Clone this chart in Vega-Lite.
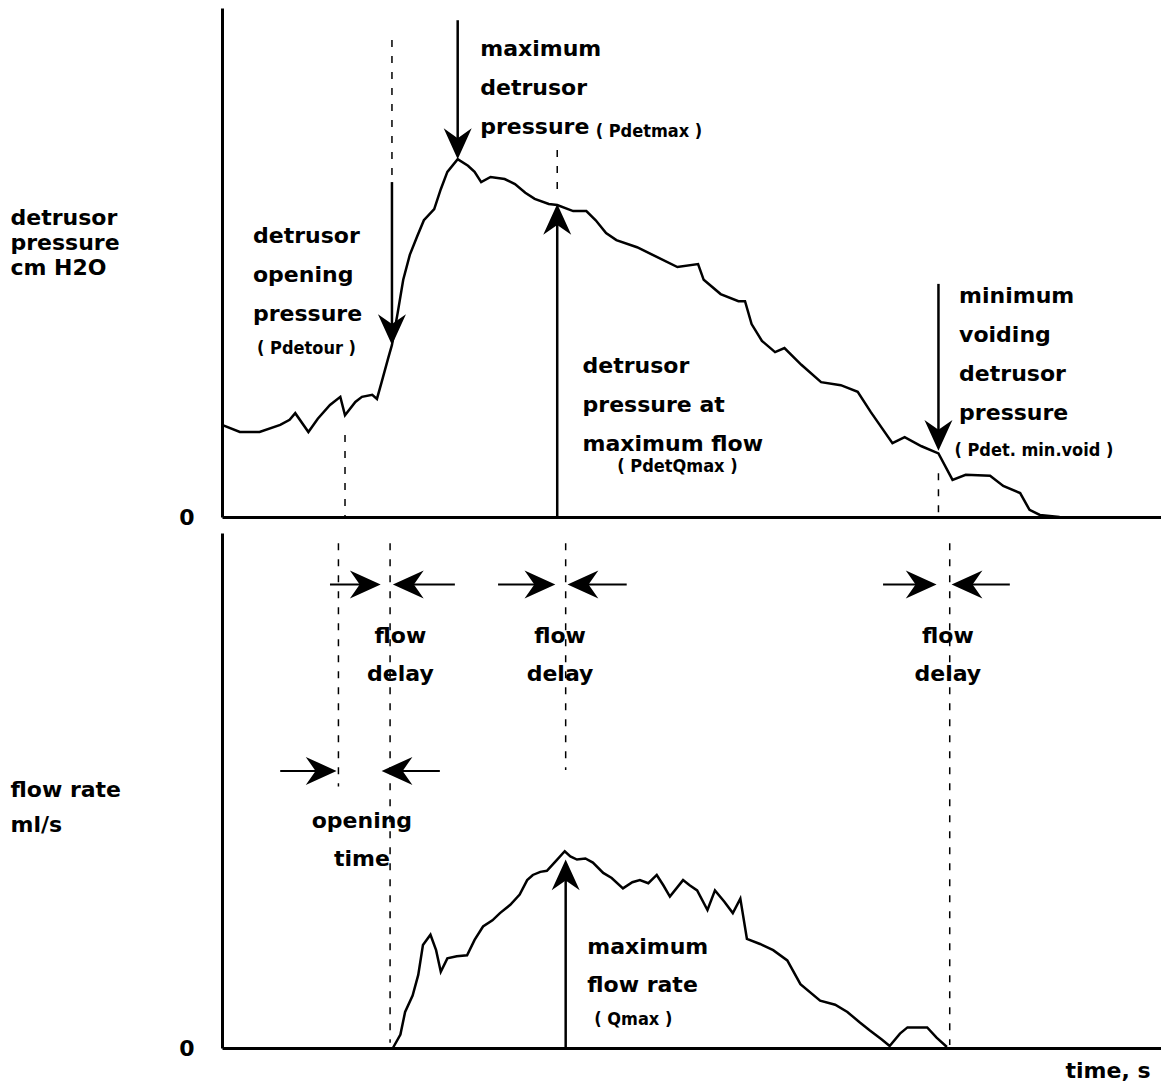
{
  "$schema": "https://vega.github.io/schema/vega-lite/v6.json",
  "padding": {"left": 10, "top": 8, "right": 0, "bottom": 0},
  "background": "white",
  "spacing": 5,
  "config": {
    "view": {"stroke": null},
    "axis": {"grid": false, "ticks": false, "domainColor": "black", "domainWidth": 3, "labelColor": "black", "titleColor": "black", "labelFont": "DejaVu Sans", "titleFont": "DejaVu Sans", "labelFontSize": 22, "labelFontWeight": "bold", "titleFontSize": 22, "titleFontWeight": "bold", "labelFlush": false}
  },
  "datasets": {
    "pressure": [
      {"t": 0, "v": 18.1}, {"t": 1.9, "v": 16.7}, {"t": 4.0, "v": 16.7}, {"t": 6.2, "v": 18.1}, {"t": 7.2, "v": 19.1}, {"t": 7.8, "v": 20.4}, {"t": 9.2, "v": 16.7}, {"t": 10.2, "v": 19.3}, {"t": 11.5, "v": 22.0}, {"t": 12.6, "v": 23.6}, {"t": 13.1, "v": 20.0}, {"t": 14.2, "v": 22.6}, {"t": 14.9, "v": 23.6}, {"t": 16.0, "v": 24.0}, {"t": 16.5, "v": 23.2}, {"t": 17.0, "v": 26.5}, {"t": 17.7, "v": 31.2}, {"t": 18.1, "v": 33.8}, {"t": 18.7, "v": 40.0}, {"t": 19.3, "v": 46.6}, {"t": 20.0, "v": 51.5}, {"t": 20.8, "v": 55.2}, {"t": 21.5, "v": 58.3}, {"t": 22.6, "v": 60.5}, {"t": 23.3, "v": 64.4}, {"t": 24.0, "v": 67.8}, {"t": 25.1, "v": 70.3}, {"t": 26.2, "v": 69.0}, {"t": 26.9, "v": 67.8}, {"t": 27.6, "v": 65.8}, {"t": 28.6, "v": 66.8}, {"t": 30.1, "v": 66.4}, {"t": 31.2, "v": 65.4}, {"t": 32.3, "v": 63.7}, {"t": 33.3, "v": 62.5}, {"t": 34.8, "v": 61.5}, {"t": 35.7, "v": 61.3}, {"t": 37.4, "v": 60.1}, {"t": 38.8, "v": 60.1}, {"t": 39.8, "v": 58.3}, {"t": 40.9, "v": 55.8}, {"t": 42.0, "v": 54.4}, {"t": 44.2, "v": 53.0}, {"t": 46.3, "v": 51.1}, {"t": 48.5, "v": 49.1}, {"t": 50.7, "v": 49.7}, {"t": 51.3, "v": 46.6}, {"t": 53.1, "v": 43.8}, {"t": 55.0, "v": 42.4}, {"t": 55.7, "v": 42.4}, {"t": 56.4, "v": 37.9}, {"t": 57.5, "v": 34.6}, {"t": 58.9, "v": 32.4}, {"t": 59.9, "v": 33.2}, {"t": 61.7, "v": 29.9}, {"t": 63.8, "v": 26.5}, {"t": 65.9, "v": 25.9}, {"t": 67.7, "v": 24.6}, {"t": 69.1, "v": 20.6}, {"t": 71.4, "v": 14.5}, {"t": 72.7, "v": 15.7}, {"t": 74.5, "v": 13.9}, {"t": 76.3, "v": 12.5}, {"t": 77.8, "v": 7.3}, {"t": 79.2, "v": 8.3}, {"t": 81.8, "v": 8.1}, {"t": 83.2, "v": 6.1}, {"t": 85.0, "v": 4.7}, {"t": 86.0, "v": 1.4}, {"t": 87.1, "v": 0.4}, {"t": 89.2, "v": 0}
    ],
    "flow": [
      {"t": 18.2, "v": 0}, {"t": 19.0, "v": 1.3}, {"t": 19.5, "v": 3.5}, {"t": 20.3, "v": 5.1}, {"t": 20.9, "v": 7.1}, {"t": 21.4, "v": 10.0}, {"t": 22.2, "v": 11.0}, {"t": 22.8, "v": 9.5}, {"t": 23.3, "v": 7.4}, {"t": 24.0, "v": 8.7}, {"t": 25.0, "v": 8.9}, {"t": 26.1, "v": 9.0}, {"t": 26.9, "v": 10.5}, {"t": 27.8, "v": 11.8}, {"t": 28.8, "v": 12.4}, {"t": 29.6, "v": 13.1}, {"t": 30.7, "v": 13.9}, {"t": 31.7, "v": 14.9}, {"t": 32.5, "v": 16.3}, {"t": 33.1, "v": 16.8}, {"t": 33.9, "v": 17.1}, {"t": 34.6, "v": 17.2}, {"t": 35.5, "v": 18.1}, {"t": 36.5, "v": 19.1}, {"t": 37.1, "v": 18.6}, {"t": 37.8, "v": 18.3}, {"t": 38.7, "v": 18.4}, {"t": 39.5, "v": 18.0}, {"t": 40.6, "v": 17.0}, {"t": 41.5, "v": 16.5}, {"t": 42.7, "v": 15.5}, {"t": 43.7, "v": 16.1}, {"t": 44.5, "v": 16.3}, {"t": 45.4, "v": 16.0}, {"t": 46.3, "v": 16.8}, {"t": 47.0, "v": 15.8}, {"t": 47.7, "v": 14.7}, {"t": 49.1, "v": 16.3}, {"t": 49.8, "v": 15.8}, {"t": 50.6, "v": 15.3}, {"t": 51.7, "v": 13.4}, {"t": 52.5, "v": 15.3}, {"t": 53.5, "v": 14.2}, {"t": 54.4, "v": 13.1}, {"t": 55.2, "v": 14.5}, {"t": 55.9, "v": 10.6}, {"t": 57.3, "v": 10.1}, {"t": 58.7, "v": 9.5}, {"t": 60.2, "v": 8.5}, {"t": 61.6, "v": 6.2}, {"t": 63.7, "v": 4.6}, {"t": 65.3, "v": 4.2}, {"t": 66.6, "v": 3.5}, {"t": 67.9, "v": 2.5}, {"t": 69.0, "v": 1.7}, {"t": 70.3, "v": 0.8}, {"t": 71.1, "v": 0.2}, {"t": 72.2, "v": 1.4}, {"t": 73.0, "v": 2.0}, {"t": 74.1, "v": 2.0}, {"t": 75.1, "v": 2.0}, {"t": 76.1, "v": 1.0}, {"t": 77.2, "v": 0.1}
    ],
    "topRules": [
      {"kind": "solid", "t": 25.1, "v": 97.6, "v2": 72.5},
      {"kind": "solid", "t": 18.1, "v": 65.8, "v2": 36.0},
      {"kind": "solid", "t": 35.7, "v": 0, "v2": 59.0},
      {"kind": "solid", "t": 76.3, "v": 45.8, "v2": 15.0},
      {"kind": "dashed", "t": 18.1, "v": 93.7, "v2": 65.8},
      {"kind": "dashed", "t": 35.7, "v": 72.1, "v2": 64.2},
      {"kind": "dashed", "t": 76.3, "v": 8.6, "v2": 0},
      {"kind": "dashed", "t": 13.1, "v": 16.1, "v2": 0}
    ],
    "topHeads": [
      {"dir": "down", "t": 25.1, "v": 70.3},
      {"dir": "down", "t": 18.1, "v": 33.8},
      {"dir": "down", "t": 76.3, "v": 13.0},
      {"dir": "up", "t": 35.7, "v": 61.5}
    ],
    "topNotes": [
      {"role": "main", "t": 27.5, "v": 93.9, "label": "maximum\ndetrusor\npressure"},
      {"role": "main", "t": 3.3, "v": 57.2, "label": "detrusor\nopening\npressure"},
      {"role": "main", "t": 38.4, "v": 31.6, "label": "detrusor\npressure at\nmaximum flow"},
      {"role": "main", "t": 78.5, "v": 45.4, "label": "minimum\nvoiding\ndetrusor\npressure"},
      {"role": "smallLeft", "t": 39.8, "v": 75.6, "label": "( Pdetmax )"},
      {"role": "smallLeft", "t": 78.0, "v": 13.0, "label": "( Pdet. min.void )"},
      {"role": "smallCenter", "t": 9.0, "v": 33.0, "label": "( Pdetour )"},
      {"role": "smallCenter", "t": 48.5, "v": 9.8, "label": "( PdetQmax )"}
    ],
    "botHRules": [
      {"t": 11.5, "t2": 16.0, "v": 45}, {"t": 24.8, "t2": 19.1, "v": 45},
      {"t": 29.4, "t2": 34.6, "v": 45}, {"t": 43.1, "t2": 37.7, "v": 45},
      {"t": 70.4, "t2": 75.2, "v": 45}, {"t": 83.9, "t2": 78.6, "v": 45},
      {"t": 6.2, "t2": 11.3, "v": 26.9}, {"t": 23.2, "t2": 17.9, "v": 26.9}
    ],
    "botVRules": [
      {"kind": "solid", "t": 36.6, "v": 0, "v2": 16.5},
      {"kind": "dashed", "t": 12.4, "v": 49, "v2": 25.4},
      {"kind": "dashed", "t": 17.9, "v": 49, "v2": 0.5},
      {"kind": "dashed", "t": 36.6, "v": 49, "v2": 27},
      {"kind": "dashed", "t": 77.5, "v": 49, "v2": 0.3}
    ],
    "botHeads": [
      {"dir": "right", "t": 16.9, "v": 45}, {"dir": "right", "t": 35.5, "v": 45}, {"dir": "right", "t": 76.1, "v": 45}, {"dir": "right", "t": 12.2, "v": 26.9},
      {"dir": "left", "t": 18.2, "v": 45}, {"dir": "left", "t": 36.8, "v": 45}, {"dir": "left", "t": 77.7, "v": 45}, {"dir": "left", "t": 17.0, "v": 26.9},
      {"dir": "up", "t": 36.6, "v": 18.3}
    ],
    "botNotes": [
      {"role": "mainCenter", "t": 19.0, "v": 41.0, "label": "flow\ndelay"},
      {"role": "mainCenter", "t": 36.0, "v": 41.0, "label": "flow\ndelay"},
      {"role": "mainCenter", "t": 77.3, "v": 41.0, "label": "flow\ndelay"},
      {"role": "mainCenter", "t": 14.9, "v": 23.0, "label": "opening\ntime"},
      {"role": "mainLeft", "t": 38.9, "v": 10.8, "label": "maximum\nflow rate"},
      {"role": "smallCenter", "t": 43.8, "v": 2.7, "label": "( Qmax )"}
    ]
  },
  "vconcat": [
    {
      "width": 939,
      "height": 509,
      "encoding": {
        "x": {"field": "t", "type": "quantitative", "scale": {"domain": [0, 100], "nice": false, "zero": false}, "axis": {"title": null, "labels": false}},
        "y": {"field": "v", "type": "quantitative", "scale": {"domain": [0, 100], "nice": false}, "axis": {"values": [0], "labelPadding": 28, "title": ["detrusor", "pressure", "cm H2O"], "titleAngle": 0, "titleAlign": "left", "titleBaseline": "top", "titleX": -212, "titleY": 199, "titleLineHeight": 25}}
      },
      "layer": [
        {"data": {"name": "pressure"}, "mark": {"type": "line", "color": "black", "strokeWidth": 2.5}},
        {"data": {"name": "topRules"}, "transform": [{"filter": "datum.kind === 'solid'"}], "mark": {"type": "rule", "color": "black", "strokeWidth": 2.5}, "encoding": {"y2": {"field": "v2"}}},
        {"data": {"name": "topRules"}, "transform": [{"filter": "datum.kind === 'dashed'"}], "mark": {"type": "rule", "color": "black", "strokeWidth": 1.5, "strokeDash": [7, 9]}, "encoding": {"y2": {"field": "v2"}}},
        {"data": {"name": "topHeads"}, "transform": [{"filter": "datum.dir === 'down'"}], "mark": {"type": "point", "shape": "M0,0 L-1,-2.2 L0,-1.5 L1,-2.2 Z", "filled": true, "color": "black", "opacity": 1, "size": 784}},
        {"data": {"name": "topHeads"}, "transform": [{"filter": "datum.dir === 'up'"}], "mark": {"type": "point", "shape": "M0,0 L-1,2.2 L0,1.5 L1,2.2 Z", "filled": true, "color": "black", "opacity": 1, "size": 784}},
        {"data": {"name": "topNotes"}, "transform": [{"filter": "datum.role === 'main'"}], "mark": {"type": "text", "align": "left", "baseline": "top", "lineBreak": "\n", "lineHeight": 39, "font": "DejaVu Sans", "fontWeight": "bold", "fontSize": 22, "color": "black"}, "encoding": {"text": {"field": "label"}}},
        {"data": {"name": "topNotes"}, "transform": [{"filter": "datum.role === 'smallLeft'"}], "mark": {"type": "text", "align": "left", "baseline": "middle", "font": "Liberation Sans Narrow, DejaVu Sans Condensed, DejaVu Sans", "fontWeight": "bold", "fontSize": 18, "color": "black"}, "encoding": {"text": {"field": "label"}}},
        {"data": {"name": "topNotes"}, "transform": [{"filter": "datum.role === 'smallCenter'"}], "mark": {"type": "text", "align": "center", "baseline": "middle", "font": "Liberation Sans Narrow, DejaVu Sans Condensed, DejaVu Sans", "fontWeight": "bold", "fontSize": 18, "color": "black"}, "encoding": {"text": {"field": "label"}}}
      ]
    },
    {
      "width": 939,
      "height": 515,
      "encoding": {
        "x": {"field": "t", "type": "quantitative", "scale": {"domain": [0, 100], "nice": false, "zero": false}, "axis": {"title": "time, s", "labels": false, "titleAlign": "right", "titleX": 928, "titleY": 12, "titleBaseline": "top"}},
        "y": {"field": "v", "type": "quantitative", "scale": {"domain": [0, 50], "nice": false}, "axis": {"values": [0], "labelPadding": 28, "title": ["flow rate", "\u00a0ml/s"], "titleAngle": 0, "titleAlign": "left", "titleBaseline": "top", "titleX": -212, "titleY": 246, "titleLineHeight": 35}}
      },
      "layer": [
        {"data": {"name": "flow"}, "mark": {"type": "line", "color": "black", "strokeWidth": 2.5}},
        {"data": {"name": "botHRules"}, "mark": {"type": "rule", "color": "black", "strokeWidth": 2}, "encoding": {"x2": {"field": "t2"}}},
        {"data": {"name": "botVRules"}, "transform": [{"filter": "datum.kind === 'solid'"}], "mark": {"type": "rule", "color": "black", "strokeWidth": 2.5}, "encoding": {"y2": {"field": "v2"}}},
        {"data": {"name": "botVRules"}, "transform": [{"filter": "datum.kind === 'dashed'"}], "mark": {"type": "rule", "color": "black", "strokeWidth": 1.5, "strokeDash": [7, 9]}, "encoding": {"y2": {"field": "v2"}}},
        {"data": {"name": "botHeads"}, "transform": [{"filter": "datum.dir === 'right'"}], "mark": {"type": "point", "shape": "M0,0 L-2.2,-1 L-1.5,0 L-2.2,1 Z", "filled": true, "color": "black", "opacity": 1, "size": 784}},
        {"data": {"name": "botHeads"}, "transform": [{"filter": "datum.dir === 'left'"}], "mark": {"type": "point", "shape": "M0,0 L2.2,-1 L1.5,0 L2.2,1 Z", "filled": true, "color": "black", "opacity": 1, "size": 784}},
        {"data": {"name": "botHeads"}, "transform": [{"filter": "datum.dir === 'up'"}], "mark": {"type": "point", "shape": "M0,0 L-1,2.2 L0,1.5 L1,2.2 Z", "filled": true, "color": "black", "opacity": 1, "size": 784}},
        {"data": {"name": "botNotes"}, "transform": [{"filter": "datum.role === 'mainCenter'"}], "mark": {"type": "text", "align": "center", "baseline": "top", "lineBreak": "\n", "lineHeight": 38, "font": "DejaVu Sans", "fontWeight": "bold", "fontSize": 22, "color": "black"}, "encoding": {"text": {"field": "label"}}},
        {"data": {"name": "botNotes"}, "transform": [{"filter": "datum.role === 'mainLeft'"}], "mark": {"type": "text", "align": "left", "baseline": "top", "lineBreak": "\n", "lineHeight": 38, "font": "DejaVu Sans", "fontWeight": "bold", "fontSize": 22, "color": "black"}, "encoding": {"text": {"field": "label"}}},
        {"data": {"name": "botNotes"}, "transform": [{"filter": "datum.role === 'smallCenter'"}], "mark": {"type": "text", "align": "center", "baseline": "middle", "font": "Liberation Sans Narrow, DejaVu Sans Condensed, DejaVu Sans", "fontWeight": "bold", "fontSize": 18, "color": "black"}, "encoding": {"text": {"field": "label"}}}
      ]
    }
  ]
}
